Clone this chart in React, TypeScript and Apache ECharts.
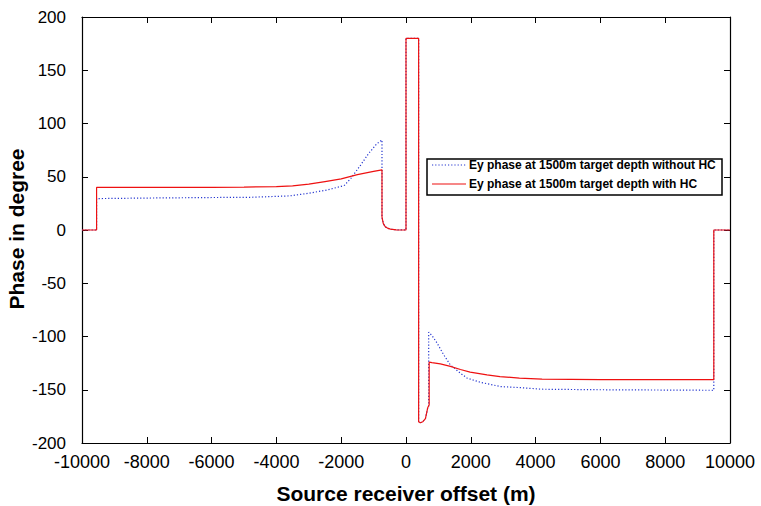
import React, { useEffect, useRef } from "react";
import * as echarts from "echarts";

const FONT = "'Liberation Sans', Arial, Helvetica, sans-serif";

const xTickValues = [-10000, -8000, -6000, -4000, -2000, 0, 2000, 4000, 6000, 8000, 10000];
const yTickValues = [-200, -150, -100, -50, 0, 50, 100, 150, 200];

const legendNames = [
  "Ey phase at 1500m target depth without HC",
  "Ey phase at 1500m target depth with HC",
];

// Without HC (blue dotted)
const blueOffset = [
  -10000, -9550, -9550, -8000, -6000, -4800, -3600, -3000, -2450, -2000, -1900, -1700, -1400, -1150, -900, -741,
  -741, -700, -640, -550, -480, -300, 0, 0, 390, 390, 440, 520, 600, 670, 700,
  700, 800, 956, 1160, 1367, 1676, 1882, 2293, 2910, 3527, 4200, 6000, 9500, 9500, 10000,
];
const bluePhase = [
  0, 0, 29.5, 30, 30.5, 30.7, 32, 34.5, 37.5, 41, 42, 48.5, 61, 72, 81, 84.5,
  12, 6, 3, 1.5, 0.8, 0.2, 0, 180, 180, -180, -181, -180, -177, -167, -166,
  -96, -99, -106, -117, -126.6, -134.4, -139, -143, -147, -148, -149.5, -150, -150.5, 0, 0,
];

// With HC (red solid)
const redOffset = [
  -10000, -9550, -9550, -8000, -6000, -5000, -4000, -3500, -3000, -2500, -2000, -1500, -1000, -741,
  -741, -700, -640, -550, -480, -300, 0, 0, 390, 390, 440, 520, 600, 670, 715,
  715, 800, 1060, 1370, 1680, 1980, 2500, 2900, 3500, 4200, 6000, 9500, 9500, 10000,
];
const redPhase = [
  0, 0, 40, 40, 40, 40.3, 40.8, 41.5, 43, 45.5, 48, 52, 55, 56.5,
  12, 6, 3, 1.5, 0.8, 0.2, 0, 180, 180, -180, -181, -180, -177, -167, -164,
  -124, -124.5, -125.7, -128, -131, -133.5, -136, -137.6, -139, -140, -140.5, -140.5, 0, 0,
];

const BLUE = "#2536d0";
const RED = "#ee1111";

export default function App() {
  const ref = useRef<HTMLDivElement>(null);
  useEffect(() => {
    if (!ref.current) return;
    const chart = echarts.init(ref.current, undefined, { renderer: "svg" });
    const axisCommon = {
      type: "value" as const,
      axisLine: { show: true, onZero: false, lineStyle: { color: "#000", width: 1.2 } },
      axisTick: { show: true, inside: true, length: 6, lineStyle: { color: "#000", width: 1 } },
      splitLine: { show: false },
    };
    const xMain = {
      ...axisCommon,
      min: xTickValues[0],
      max: xTickValues[xTickValues.length - 1],
      interval: xTickValues[1] - xTickValues[0],
    };
    const yMain = {
      ...axisCommon,
      min: yTickValues[0],
      max: yTickValues[yTickValues.length - 1],
      interval: yTickValues[1] - yTickValues[0],
    };
    chart.setOption({
      animation: false,
      backgroundColor: "#fff",
      grid: { left: 82, right: 31, top: 17, bottom: 63 },
      xAxis: [
        {
          ...xMain,
          position: "bottom",
          axisLabel: {
            fontSize: 18,
            color: "#000",
            margin: 10,
            fontFamily: FONT,
            formatter: (v: number) => String(v),
          },
        },
        { ...xMain, position: "top", axisLabel: { show: false } },
      ],
      yAxis: [
        {
          ...yMain,
          position: "left",
          axisLabel: {
            fontSize: 17,
            color: "#000",
            margin: 16,
            fontFamily: FONT,
            formatter: (v: number) => String(v),
          },
        },
        { ...yMain, position: "right", axisLabel: { show: false } },
      ],
      series: [
        {
          name: legendNames[0],
          type: "line",
          symbol: "none",
          showSymbol: false,
          z: 2,
          data: blueOffset.map((x, i) => [x, bluePhase[i]]),
          lineStyle: { color: BLUE, width: 1.2, type: [1.2, 2] },
        },
        {
          name: legendNames[1],
          type: "line",
          symbol: "none",
          showSymbol: false,
          z: 3,
          data: redOffset.map((x, i) => [x, redPhase[i]]),
          lineStyle: { color: RED, width: 1.2 },
        },
      ],
      graphic: [
        {
          type: "text",
          x: 406,
          y: 493,
          style: {
            text: "Source receiver offset (m)",
            font: `bold 21px ${FONT}`,
            fill: "#000",
            align: "center",
            verticalAlign: "middle",
          },
        },
        {
          type: "text",
          x: 16,
          y: 229,
          rotation: Math.PI / 2,
          style: {
            text: "Phase in degree",
            font: `bold 21px ${FONT}`,
            fill: "#000",
            align: "center",
            verticalAlign: "middle",
          },
        },
        {
          type: "rect",
          x: 427,
          y: 159,
          z: 10,
          shape: { width: 295, height: 36 },
          style: { fill: "#fff", stroke: "#000", lineWidth: 1.5 },
        },
        {
          type: "line",
          z: 11,
          shape: { x1: 432, y1: 165, x2: 466, y2: 165 },
          style: { stroke: BLUE, lineWidth: 1.2, lineDash: [1.2, 2] },
        },
        {
          type: "line",
          z: 11,
          shape: { x1: 432, y1: 184, x2: 466, y2: 184 },
          style: { stroke: RED, lineWidth: 1.2 },
        },
        {
          type: "text",
          z: 11,
          x: 469,
          y: 165,
          style: {
            text: legendNames[0],
            font: `bold 12px ${FONT}`,
            fill: "#000",
            verticalAlign: "middle",
          },
        },
        {
          type: "text",
          z: 11,
          x: 469,
          y: 184,
          style: {
            text: legendNames[1],
            font: `bold 12px ${FONT}`,
            fill: "#000",
            verticalAlign: "middle",
          },
        },
      ],
    });
    return () => chart.dispose();
  }, []);
  return (
    <div
      ref={ref}
      style={{ position: "fixed", left: 0, top: 0, width: 761, height: 506, background: "#fff" }}
    />
  );
}
